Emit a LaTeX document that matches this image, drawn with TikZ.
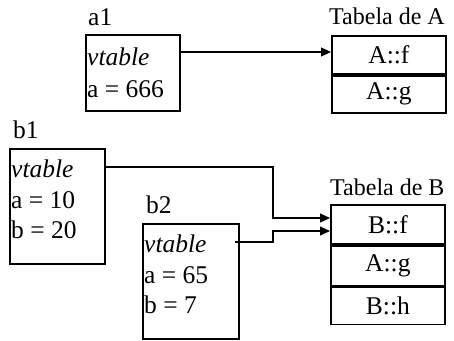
\documentclass[tikz,border=0pt]{standalone}
\usepackage{fontspec}
\setmainfont{Liberation Serif}
\usetikzlibrary{arrows.meta}
\begin{document}
\begin{tikzpicture}[x=1pt,y=-1pt,
  font=\fontsize{25.5}{30}\selectfont,
  obj/.style={draw,line width=1.8pt,anchor=north west,minimum width=#1,inner sep=0pt},
  row/.style={draw,line width=1.8pt,minimum width=114pt,inner sep=0pt},
  txt/.style={anchor=base west,inner sep=0pt},
  lbl/.style={anchor=base west,inner sep=0pt},
  ptr/.style={line width=1.2pt,-{Triangle[length=10pt,width=9pt]}}]
\useasboundingbox (0,0) rectangle (454,340);
% object a1
\node[lbl] (la1) at (88,25) {a1};
\node[obj=94pt,minimum height=76pt] (a1) at (85,34) {};
\node[txt] (a1v) at (87,65) {\itshape vtable};
\node[txt] (a1a) at (87,97) {a = 666};
% object b1
\node[lbl] (lb1) at (13,138) {b1};
\node[obj=95pt,minimum height=115pt] (b1) at (9,148) {};
\node[txt] (b1v) at (11,177) {\itshape vtable};
\node[txt] (b1a) at (11,208) {a = 10};
\node[txt] (b1b) at (11,238) {b = 20};
% object b2
\node[lbl] (lb2) at (146,213) {b2};
\node[obj=96pt,minimum height=115pt] (b2) at (142,223) {};
\node[txt] (b2v) at (144,252) {\itshape vtable};
\node[txt] (b2a) at (144,283) {a = 65};
\node[txt] (b2b) at (144,313) {b = 7};
% table A
\node[lbl,font=\fontsize{24}{28}\selectfont] (lta) at (329,24) {Tabela de A};
\node[row,minimum height=38pt,anchor=north west] (af) at (331,35) {A::f};
\node[row,minimum height=37pt,anchor=north] (ag) at (af.south) {A::g};
% table B
\node[lbl,font=\fontsize{24}{28}\selectfont] (ltb) at (330,195) {Tabela de B};
\node[row,minimum height=39pt,anchor=north west] (bf) at (330,204) {B::f};
\node[row,minimum height=40pt,anchor=north] (bg) at (bf.south) {A::g};
\node[row,minimum height=37pt,anchor=north] (bh) at (bg.south) {B::h};
% pointers
\coordinate (pa1) at (181,52);
\draw[ptr] (pa1) -- (pa1 -| af.west);
\coordinate (pb1) at (106,167);
\coordinate (kb1) at (273,218);
\draw[ptr] (pb1) -| (kb1) -- (kb1 -| bf.west);
\coordinate (pb2) at (235,242);
\coordinate (kb2) at (273,231);
\draw[ptr] (pb2) -| (kb2) -- (kb2 -| bf.west);
\end{tikzpicture}
\end{document}
